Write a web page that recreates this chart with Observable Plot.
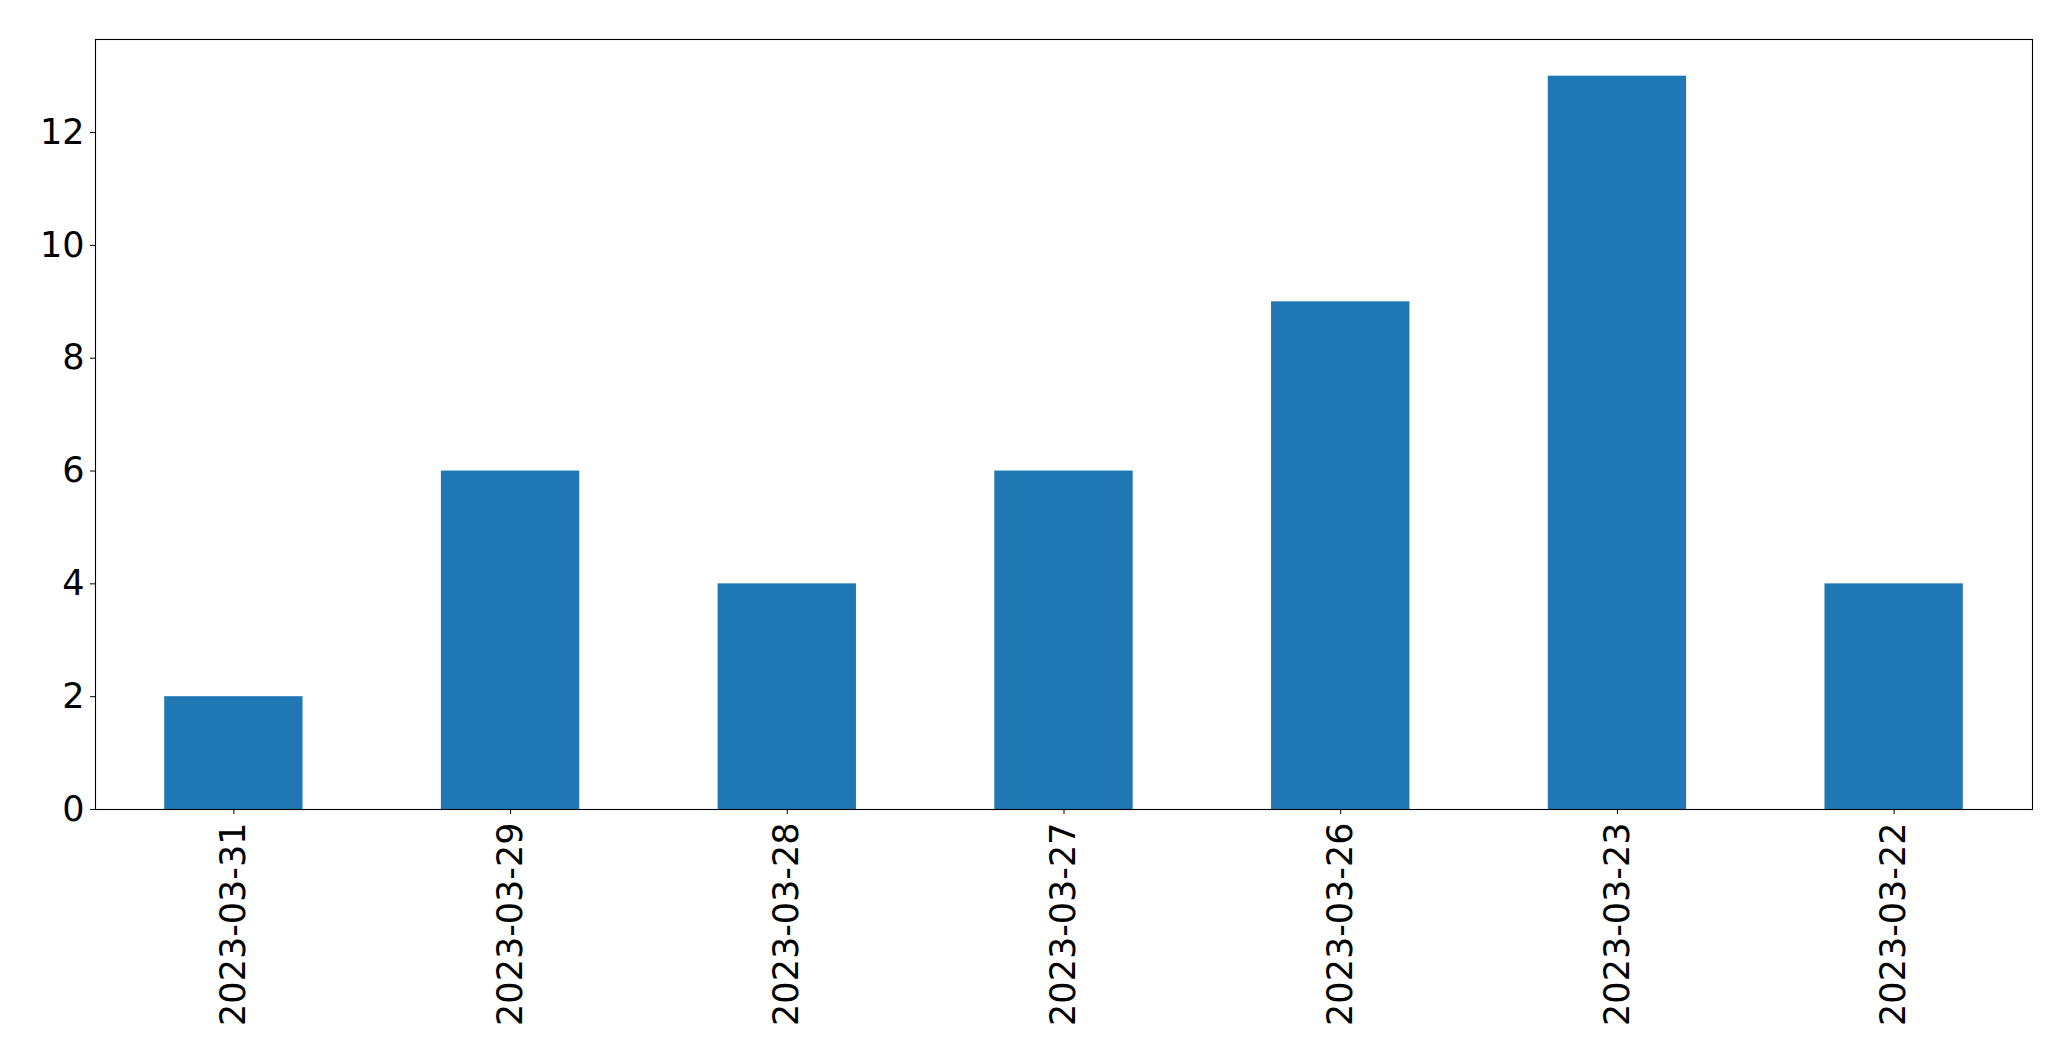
<!DOCTYPE html>
<html>
<head>
<meta charset="utf-8">
<script src="https://cdn.jsdelivr.net/npm/d3@7"></script>
<script src="https://cdn.jsdelivr.net/npm/@observablehq/plot@0.6"></script>
<style>
  html, body { margin: 0; padding: 0; background: #fff; }
  #chart svg { display: block; }
</style>
</head>
<body>
<div id="chart"></div>
<script>
const dates = ["2023-03-31", "2023-03-29", "2023-03-28", "2023-03-27", "2023-03-26", "2023-03-23", "2023-03-22"];
const counts = [2, 6, 4, 6, 9, 13, 4];
const yTicks = [0, 2, 4, 6, 8, 10, 12];

const data = dates.map((d, i) => ({date: d, count: counts[i]}));

const chart = Plot.plot({
  width: 2071,
  height: 1061,
  marginLeft: 95,
  marginRight: 39,
  marginTop: 39,
  marginBottom: 252,
  style: {fontFamily: "DejaVu Sans", fontSize: "35px", color: "#000", background: "#fff"},
  x: {domain: dates, paddingInner: 0.5, paddingOuter: 0.25, round: false, label: null},
  y: {domain: [0, 13.65], label: null},
  marks: [
    Plot.barY(data, {x: "date", y: "count", fill: "#1f77b4"}),
    Plot.axisY({ticks: yTicks, tickSize: 5, tickPadding: 6, label: null, fontSize: 35}),
    Plot.axisX({tickSize: 5, tickPadding: 8, tickRotate: -90, label: null, fontSize: 35}),
    Plot.frame({stroke: "#000", strokeWidth: 1.1})
  ]
});
document.getElementById("chart").appendChild(chart);
</script>
</body>
</html>
